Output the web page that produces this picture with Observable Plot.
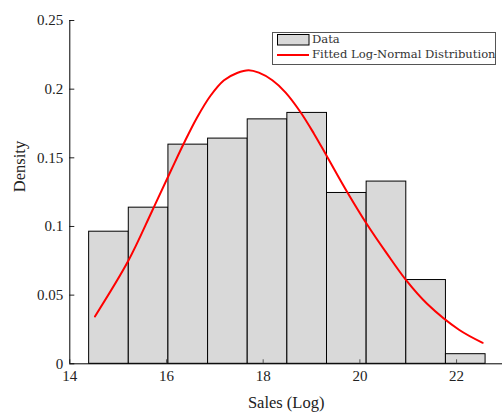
<!DOCTYPE html>
<html>
<head>
<meta charset="utf-8">
<script src="https://cdn.jsdelivr.net/npm/d3@7"></script>
<script src="https://cdn.jsdelivr.net/npm/@observablehq/plot@0.6"></script>
<style>
  body { margin: 0; background: #fff; }
  #chart { position: relative; width: 502px; height: 416px; }
</style>
</head>
<body>
<div id="chart"></div>
<script>
// Histogram of log sales (normalized to density)
const binEdges = [14.40, 15.22, 16.04, 16.86, 17.68, 18.50, 19.32, 20.14, 20.96, 21.78, 22.60];
const binDensity = [0.0962, 0.1137, 0.1596, 0.1640, 0.1780, 0.1827, 0.1244, 0.1327, 0.0610, 0.0070];

// Fitted log-normal density curve
const fitX = [14.52, 15.21, 15.70, 16.10, 16.36, 16.63, 16.91, 17.19, 17.46, 17.70, 17.91, 18.19, 18.46, 18.77, 19.05, 19.32, 19.74, 20.14, 20.56, 20.96, 21.39, 22.05, 22.54];
const fitY = [0.0345, 0.0750, 0.1111, 0.1413, 0.1606, 0.1792, 0.1952, 0.2065, 0.2118, 0.2138, 0.2120, 0.2065, 0.1977, 0.1834, 0.1676, 0.1510, 0.1250, 0.1020, 0.0802, 0.0607, 0.0437, 0.0248, 0.0153];

const xTicks = [14, 16, 18, 20, 22];
const yTicks = [0, 0.05, 0.1, 0.15, 0.2, 0.25];

const bins = binDensity.map((d, i) => ({x1: binEdges[i], x2: binEdges[i + 1], y: d}));
const fit = fitX.map((x, i) => ({x, y: fitY[i]}));

const serif = "'Liberation Serif', 'Times New Roman', serif";

const plot = Plot.plot({
  width: 502,
  height: 416,
  marginLeft: 69.3,
  marginRight: 0,
  marginTop: 20,
  marginBottom: 52.7,
  style: {fontFamily: serif, background: "#fff", overflow: "visible"},
  x: {domain: [14, 22.95]},
  y: {domain: [0, 0.25]},
  marks: [
    Plot.rectY(bins, {x1: "x1", x2: "x2", y: "y", fill: "#d9d9d9", stroke: "#000", strokeWidth: 1}),
    Plot.axisX(xTicks, {
      tickSize: -4, tickPadding: 11, fontSize: 15, stroke: "#555", fill: "#222",
      tickFormat: d => String(d), label: null
    }),
    Plot.axisY(yTicks, {
      tickSize: -5, tickPadding: 11.6, fontSize: 15, stroke: "#222", fill: "#222",
      tickFormat: d => String(d), label: null
    }),
    Plot.ruleX([14], {stroke: "#000"}),
    Plot.ruleY([0], {stroke: "#000"}),
    Plot.line(fit, {x: "x", y: "y", stroke: "#ff0000", strokeWidth: 2, curve: "catmull-rom"}),
    Plot.text(["Sales (Log)"], {frameAnchor: "bottom", dy: 38.5, fontSize: 16.5, fill: "#222", lineAnchor: "middle"}),
    Plot.text(["Density"], {frameAnchor: "left", dx: -50, rotate: -90, fontSize: 16.5, fill: "#222"})
  ]
});

document.getElementById("chart").appendChild(plot);

// Legend box in the upper right of the axes
const svg = d3.select(plot);
const lg = svg.append("g")
  .attr("font-family", "'DejaVu Serif', serif")
  .attr("font-size", 11.6)
  .attr("text-anchor", "start");
lg.append("rect").attr("x", 272.5).attr("y", 32.5).attr("width", 223).attr("height", 32)
  .attr("fill", "#fff").attr("stroke", "#555").attr("stroke-width", 1);
lg.append("rect").attr("x", 277.5).attr("y", 34.5).attr("width", 31.5).attr("height", 10.5)
  .attr("fill", "#d9d9d9").attr("stroke", "#000").attr("stroke-width", 1);
lg.append("line").attr("x1", 277).attr("x2", 309).attr("y1", 55).attr("y2", 55)
  .attr("stroke", "#ff0000").attr("stroke-width", 2);
lg.append("text").attr("x", 312).attr("y", 43).attr("fill", "#333").text("Data");
lg.append("text").attr("x", 312).attr("y", 58).attr("fill", "#333").text("Fitted Log-Normal Distribution");
</script>
</body>
</html>
